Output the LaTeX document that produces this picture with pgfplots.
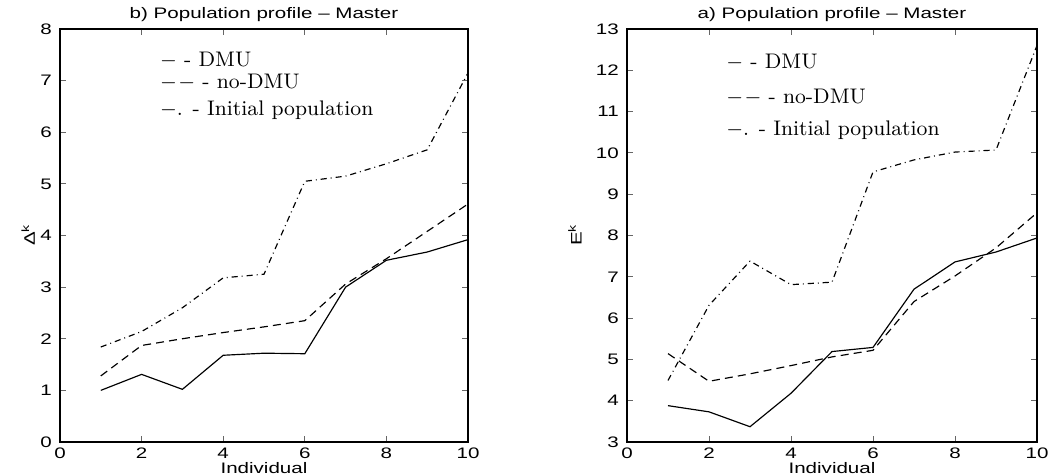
\documentclass[border=0pt]{standalone}
\usepackage{fontspec}
\usepackage{pgfplots}
\pgfplotsset{compat=1.18}
\newfontfamily\hv[FakeStretch=1.35]{Liberation Sans}

\tikzset{
  dmu/.style={solid},
  nodmu/.style={dash pattern=on 3.4pt off 2.2pt},
  init/.style={dash pattern=on 2.6pt off 1.7pt on 0.4pt off 1.7pt},
  leg/.style={anchor=west, font=\fontsize{9}{10}\selectfont},
}
\pgfplotsset{
  prof/.style={
    scale only axis, height=6.195cm,
    xmin=0, xmax=10, xtick={0,2,...,10},
    tick align=inside, major tick length=0.09cm,
    axis line style={line width=0.8pt},
    tick style={line width=0.4pt, black!60},
    ticklabel style={font=\hv\fontsize{6.5}{7}\selectfont},
    xticklabel style={yshift=1pt},
    /pgf/number format/assume math mode=true,
    title style={font=\hv\fontsize{6.5}{7}\selectfont, at={(axis description cs:0.5,1.0)}, anchor=center, yshift=0pt},
    label style={font=\hv\fontsize{6.5}{7}\selectfont},
    xlabel={Individual},
    xlabel style={at={(axis description cs:0.5,-0.062)}, anchor=center, yshift=0pt},
    every axis plot/.append style={black, line width=0.5pt},
  },
}
\newcommand{\ddash}{$-$\hspace{0.6pt}$-$}

\begin{document}
\begin{tikzpicture}
% left panel
\begin{axis}[prof, width=6.12cm,
  ymin=0, ymax=8, ytick={0,1,...,8},
  title={b) Population profile – Master},
  ylabel={Δ\raisebox{0.7ex}{\fontsize{4.5}{5}\selectfont k}},
  ylabel style={at={(axis description cs:-0.078,0.5)}, anchor=center},
]
  \addplot[dmu] coordinates {(1,1.0)(2,1.31)(3,1.02)(4,1.68)(5,1.72)(6,1.71)(7,3.0)(8,3.52)(9,3.68)(10,3.92)};
  \addplot[nodmu] coordinates {(1,1.28)(2,1.87)(3,2.0)(4,2.12)(5,2.23)(6,2.35)(7,3.06)(8,3.55)(9,4.08)(10,4.61)};
  \addplot[init] coordinates {(1,1.84)(2,2.14)(3,2.6)(4,3.18)(5,3.25)(6,5.05)(7,5.15)(8,5.39)(9,5.66)(10,7.15)};
  \node[leg] at (axis cs:2.25,7.40) {$-$ - DMU};
  \node[leg] at (axis cs:2.25,6.96) {\ddash{} - no-DMU};
  \node[leg] at (axis cs:2.25,6.43) {$-$. - Initial population};
\end{axis}
% right panel
\begin{axis}[prof, width=6.15cm, at={(8.505cm,0)},
  ymin=3, ymax=13, ytick={3,4,...,13},
  title={a) Population profile – Master},
  ylabel={E\raisebox{0.7ex}{\fontsize{4.5}{5}\selectfont k}},
  ylabel style={at={(axis description cs:-0.127,0.5)}, anchor=center},
]
  \addplot[dmu] coordinates {(1,3.88)(2,3.73)(3,3.37)(4,4.18)(5,5.19)(6,5.29)(7,6.7)(8,7.36)(9,7.6)(10,7.94)};
  \addplot[nodmu] coordinates {(1,5.14)(2,4.47)(3,4.65)(4,4.85)(5,5.06)(6,5.22)(7,6.4)(8,7.02)(9,7.7)(10,8.55)};
  \addplot[init] coordinates {(1,4.49)(2,6.31)(3,7.38)(4,6.81)(5,6.87)(6,9.54)(7,9.83)(8,10.02)(9,10.07)(10,12.6)};
  \node[leg] at (axis cs:2.22,12.2) {$-$ - DMU};
  \node[leg] at (axis cs:2.22,11.35) {\ddash{} - no-DMU};
  \node[leg] at (axis cs:2.22,10.55) {$-$. - Initial population};
\end{axis}
\pgfresetboundingbox
\path (-0.9cm,-0.48cm) rectangle (14.955cm,6.63cm);
\end{tikzpicture}
\end{document}
